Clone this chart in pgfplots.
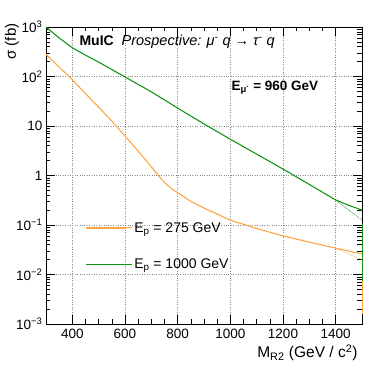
\documentclass[border=0pt]{standalone}
\usepackage{fontspec}
\setmainfont{Liberation Sans}
\usepackage{pgfplots}
\pgfplotsset{compat=1.18}
\definecolor{morange}{RGB}{255,165,70}
\definecolor{mgreen}{RGB}{20,150,20}

\begin{document}
\begin{tikzpicture}[x=1pt,y=1pt]
\path[use as bounding box] (0,0) rectangle (381,371);
\begin{axis}[
    at={(46pt,47pt)}, anchor=south west,
    scale only axis, width=316pt, height=297pt,
    ymode=log, xmin=300, xmax=1500, ymin=1e-3, ymax=1e3,
    xtick={400,600,...,1400}, minor x tick num=3,
    ytick={1e-3,1e-2,1e-1,1,10,100,1000},
    yticklabels={10\textsuperscript{−3},10\textsuperscript{−2},10\textsuperscript{−1},1,10,10\textsuperscript{2},10\textsuperscript{3}},
    tick align=inside, tick pos=both, ticklabel pos=left,
    major tick length=9pt, minor tick length=4.5pt,
    every tick/.style={black, line width=0.5pt},
    grid=major, major grid style={dotted, gray!90, line width=0.6pt},
    axis line style={line width=0.8pt},
    tick label style={font=\fontsize{13.5}{15}\selectfont},
    xticklabel style={yshift=-2pt},
    /pgf/number format/assume math mode=true,
    /pgf/number format/1000 sep={},
    clip=false,
    legend style={at={(rel axis cs:0.123,0.350)}, anchor=north west, draw=none, fill=none,
        font=\fontsize{14}{16}\selectfont, row sep=21.4pt, inner sep=0pt},
    legend cell align=left,
    legend image code/.code={\draw[#1, solid, line width=1.3pt] (0pt,0pt) -- (40pt,0pt); \path (0pt,0pt) -- (46pt,0pt);},
]
\addplot[color=morange, solid, line width=1.1pt] coordinates {
(300,280)(350,155)(400,86)(450,45)(500,24)(550,12.5)(600,6.3)(650,3.1)(700,1.5)(725,1.02)(750,0.72)
(775,0.55)(800,0.45)(850,0.30)(900,0.22)(1000,0.125)(1100,0.085)(1200,0.06)(1300,0.045)(1400,0.034)(1500,0.026)
};
\addlegendentry{E\textsubscript{p} = 275 GeV}
\addplot[color=mgreen, solid, line width=1.1pt] coordinates {
(300,1000)(350,600)(400,380)(450,270)(500,195)(600,98)(700,49)(800,23)(900,11)(1000,5.4)
(1100,2.7)(1200,1.35)(1300,0.66)(1400,0.32)(1450,0.25)(1500,0.2)
};
\addlegendentry{E\textsubscript{p} = 1000 GeV}
\addplot[color=morange, densely dotted, line width=0.7pt, forget plot] coordinates {(1400,0.034)(1500,0.020)};
\addplot[color=mgreen, densely dotted, line width=0.7pt, forget plot] coordinates {(1400,0.32)(1500,0.125)};
\addplot[color=mgreen, line width=0.8pt, forget plot] coordinates {(1500,0.107)(1500,0.0074)};
\addplot[color=morange, line width=0.8pt, forget plot] coordinates {(1500,0.0074)(1500,0.0016)};
\node[anchor=base west, font=\bfseries\fontsize{14}{16}\selectfont] at (rel axis cs:0.095,0.936) {MuIC};
\node[anchor=base west, font=\itshape\fontsize{14.5}{16}\selectfont] at (rel axis cs:0.228,0.936) {Prospective: μ\textsuperscript{-} q → τ\textsuperscript{-} q};
\node[anchor=west, font=\bfseries\fontsize{13.5}{15}\selectfont] at (rel axis cs:0.576,0.795) {E\textsubscript{μ\textsuperscript{-}} = 960 GeV};
\end{axis}
\node[rotate=90, anchor=east, font=\fontsize{15}{17}\selectfont] at (12,351) {σ (fb)};
\node[anchor=base east, font=\fontsize{15.5}{17}\selectfont] at (361,13) {M\textsubscript{R2} (GeV / c\textsuperscript{2})};
\end{tikzpicture}
\end{document}
